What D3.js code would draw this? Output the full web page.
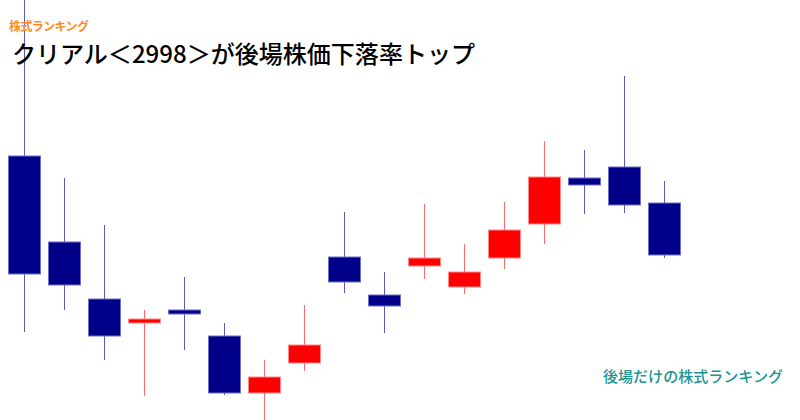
<!DOCTYPE html>
<html>
<head>
<meta charset="utf-8">
<script src="https://cdn.jsdelivr.net/npm/d3@7"></script>
<style>
  html, body { margin: 0; padding: 0; background: #fff; }
  svg { display: block; }
</style>
</head>
<body>
<div class="chart"></div>
<script>
// session labels (17 sessions) and OHLC prices
var days   = ["d01","d02","d03","d04","d05","d06","d07","d08","d09","d10","d11","d12","d13","d14","d15","d16","d17"];
var opens  = [1112, 1069, 1040.5, 1028.5, 1035, 1022, 993.5, 1008.5, 1061.5, 1042.5, 1057, 1046.5, 1061, 1078, 1101, 1106.5, 1088.5];
var highs  = [1200, 1101, 1077.5, 1035, 1051.5, 1028.5, 1010, 1037.5, 1084, 1054, 1088, 1068, 1089, 1119.5, 1115, 1152, 1099.5];
var lows   = [1024, 1035, 1010, 992, 1015, 992.5, 975, 1004.5, 1043.5, 1023.5, 1050.5, 1043, 1055.5, 1068, 1083, 1083.5, 1061];
var closes = [1053, 1047.5, 1022, 1030.5, 1033, 993.5, 1001.5, 1017.5, 1049, 1037, 1061, 1054, 1075, 1101.5, 1097.5, 1087.5, 1062.5];

var title = "クリアル＜2998＞が後場株価下落率トップ";
var tag = "株式ランキング";
var brand = "後場だけの株式ランキング";

var width = 800, height = 420;

var data = days.map(function (d, i) {
    return {day: d, open: opens[i], high: highs[i], low: lows[i], close: closes[i]};
});

var svg = d3.select(".chart").append("svg")
    .attr("width", width)
    .attr("height", height);

var x = d3.scaleBand()
    .domain(days)
    .range([4, 684])
    .paddingInner(0.2)
    .paddingOuter(0.1);

var y = d3.scaleLinear()
    .domain([980, 1190])
    .range([height, 0]);

function up(d) { return d.close >= d.open; }

var candles = svg.append("g").selectAll("g")
    .data(data)
    .enter().append("g");

// wicks
candles.append("line")
    .attr("x1", function (d) { return Math.round(x(d.day) + x.bandwidth() / 2) + 0.5; })
    .attr("x2", function (d) { return Math.round(x(d.day) + x.bandwidth() / 2) + 0.5; })
    .attr("y1", function (d) { return y(d.high); })
    .attr("y2", function (d) { return y(d.low); })
    .attr("stroke", function (d) { return up(d) ? "#ff6a6a" : "#5a5abf"; })
    .attr("stroke-width", 1);

// bodies
candles.append("rect")
    .attr("x", function (d) { return Math.round(x(d.day)) + 0.5; })
    .attr("width", Math.round(x.bandwidth()))
    .attr("y", function (d) { return y(Math.max(d.open, d.close)); })
    .attr("height", function (d) { return Math.max(3, Math.abs(y(d.open) - y(d.close))); })
    .attr("fill", function (d) { return up(d) ? "#ff0000" : "#000088"; })
    .attr("stroke", function (d) { return up(d) ? "#ff8a8a" : "#7070c8"; })
    .attr("stroke-width", 1);

svg.append("text")
    .attr("x", 9)
    .attr("y", 31)
    .attr("font-family", "'Noto Sans CJK JP', sans-serif")
    .attr("font-size", 12)
    .attr("font-weight", "bold")
    .attr("fill", "#ff8c1a")
    .attr("textLength", 80)
    .text(tag);

svg.append("text")
    .attr("x", 12)
    .attr("y", 63)
    .attr("font-family", "'Noto Sans CJK JP', sans-serif")
    .attr("font-size", 24)
    .attr("font-weight", 500)
    .attr("fill", "#000")
    .attr("textLength", 463)
    .attr("lengthAdjust", "spacingAndGlyphs")
    .text(title);

svg.append("text")
    .attr("x", 603)
    .attr("y", 382)
    .attr("font-family", "'Noto Sans CJK JP', sans-serif")
    .attr("font-size", 15)
    .attr("font-weight", 500)
    .attr("fill", "#1a9494")
    .attr("textLength", 180)
    .text(brand);
</script>
</body>
</html>
